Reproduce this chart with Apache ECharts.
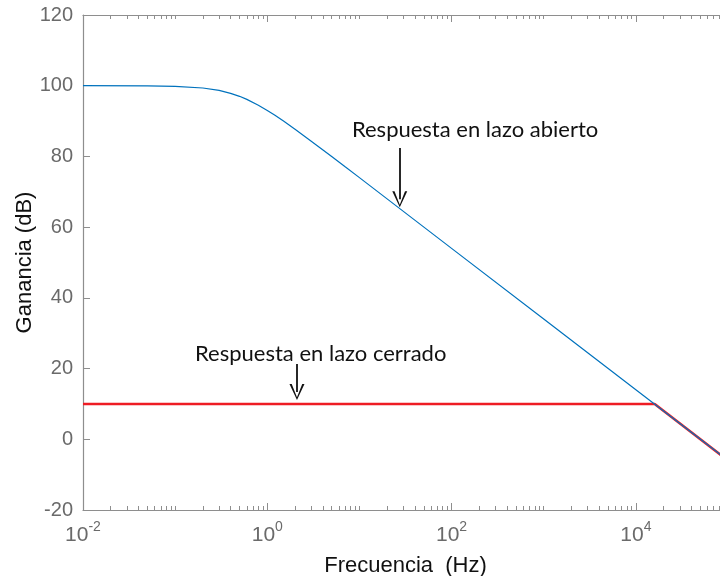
<!DOCTYPE html>
<html>
<head>
<meta charset="utf-8">
<script src="https://cdn.jsdelivr.net/npm/echarts@6/dist/echarts.min.js"></script>
<style>
  html, body { margin: 0; padding: 0; background: #fff; }
  #chart { width: 720px; height: 576px; }
</style>
</head>
<body>
<div id="chart"></div>
<script>
// frecuencias (Hz) y ganancia
const freqOpen = [0.01, 0.05, 0.1, 0.2, 0.3, 0.4, 0.5, 0.6, 0.8, 1, 1.2, 1.5, 2, 3, 5, 7, 10, 100, 1000, 10000, 100000];
const gainOpen = [100, 99.96, 99.8, 99.35, 98.66, 97.85, 97.0, 96.13, 94.49, 93.0, 91.7, 90.0, 87.7, 84.3, 80.0, 77.06, 74.0, 54.0, 34.0, 14.0, -6.0];

const freqClosed = [0.01, 16000, 100000];
const gainClosed = [10, 10, -6];

const majorTicks = [0.01, 1, 100, 10000];
const minorTicks = [
  0.02, 0.03, 0.04, 0.05, 0.06, 0.07, 0.08, 0.09,
  0.1, 0.2, 0.3, 0.4, 0.5, 0.6, 0.7, 0.8, 0.9,
  2, 3, 4, 5, 6, 7, 8, 9,
  10, 20, 30, 40, 50, 60, 70, 80, 90,
  200, 300, 400, 500, 600, 700, 800, 900,
  1000, 2000, 3000, 4000, 5000, 6000, 7000, 8000, 9000,
  20000, 30000, 40000, 50000, 60000, 70000, 80000, 90000
];

// anotaciones: [frecuencia, ganancia]
const labelOpen = [180, 87.5];
const arrowOpen = [[27.4, 82.4], [27.4, 67.9]];
const labelClosed = [3.8, 24.1];
const arrowClosed = [[2.1, 21.3], [2.1, 13.4]];

const axisGray = '#8e8e8e';
const textGray = '#6a6a6a';
const chevron = 'path://M0,10 L1.5,10 L5,1.6 L8.5,10 L10,10 L5,0 Z';

function xAxisBase(pos, ticks, len, main) {
  return {
    type: 'log',
    logBase: 10,
    position: pos,
    min: 0.01,
    max: 100000,
    splitLine: { show: false },
    axisLine: { show: main, onZero: false, lineStyle: { color: axisGray, width: 1.2 } },
    axisTick: { show: true, inside: true, length: len, customValues: ticks, lineStyle: { color: axisGray, width: 1 } },
    axisLabel: { show: false },
    minorTick: { show: false }
  };
}

const chart = echarts.init(document.getElementById('chart'));

const bottomMain = xAxisBase('bottom', majorTicks, 7, true);
bottomMain.axisLabel = {
  show: true,
  customValues: majorTicks,
  margin: 10,
  formatter: v => '{b|10}{s|' + Math.round(Math.log10(v)) + '}',
  rich: {
    b: { fontFamily: 'Liberation Sans', fontSize: 21, color: textGray, verticalAlign: 'bottom' },
    s: { fontFamily: 'Liberation Sans', fontSize: 14, color: textGray, verticalAlign: 'top', padding: [0, 0, 12, 0] }
  }
};
bottomMain.name = 'Frecuencia  (Hz)';
bottomMain.nameLocation = 'middle';
bottomMain.nameGap = 45;
bottomMain.nameMoveOverlap = false;
bottomMain.nameTextStyle = { fontFamily: 'Liberation Sans', fontSize: 22, color: '#111' };

const topMain = xAxisBase('top', majorTicks, 7, true);

chart.setOption({
  animation: false,
  backgroundColor: '#fff',
  grid: { left: 83, right: -8, top: 15, bottom: 66, containLabel: false, outerBoundsMode: 'none' },
  xAxis: [
    bottomMain,
    xAxisBase('bottom', minorTicks, 4, false),
    topMain,
    xAxisBase('top', minorTicks, 4, false)
  ],
  yAxis: {
    type: 'value',
    min: -20,
    max: 120,
    interval: 20,
    name: 'Ganancia (dB)',
    nameLocation: 'middle',
    nameGap: 47,
    nameMoveOverlap: false,
    nameTextStyle: { fontFamily: 'Liberation Sans', fontSize: 22, color: '#111' },
    splitLine: { show: false },
    axisLine: { show: true, lineStyle: { color: axisGray, width: 1.2 } },
    axisTick: { show: true, inside: true, length: 7, lineStyle: { color: axisGray } },
    axisLabel: { fontFamily: 'Liberation Sans', fontSize: 20, color: textGray, margin: 10 }
  },
  series: [
    {
      name: 'Lazo abierto',
      type: 'line',
      showSymbol: false,
      data: freqOpen.map((f, i) => [f, gainOpen[i]]),
      lineStyle: { color: '#0072BD', width: 1.2 },
      z: 3,
      markPoint: {
        symbol: 'circle',
        symbolSize: 0,
        label: { show: true, position: 'inside', fontFamily: 'Lato', fontSize: 22, color: '#111', formatter: 'Respuesta en lazo abierto' },
        data: [{ coord: labelOpen }]
      },
      markLine: {
        silent: true,
        symbol: ['none', chevron],
        symbolSize: [15, 16],
        lineStyle: { color: '#111', width: 1.8, type: 'solid' },
        label: { show: false },
        data: [[{ coord: arrowOpen[0] }, { coord: arrowOpen[1] }]]
      }
    },
    {
      name: 'Lazo cerrado',
      type: 'line',
      showSymbol: false,
      data: freqClosed.map((f, i) => [f, gainClosed[i]]),
      lineStyle: { color: '#ee1c24', width: 2.6 },
      z: 2,
      markPoint: {
        symbol: 'circle',
        symbolSize: 0,
        label: { show: true, position: 'inside', fontFamily: 'Lato', fontSize: 22, color: '#111', formatter: 'Respuesta en lazo cerrado' },
        data: [{ coord: labelClosed }]
      },
      markLine: {
        silent: true,
        symbol: ['none', chevron],
        symbolSize: [15, 16],
        lineStyle: { color: '#111', width: 1.8, type: 'solid' },
        label: { show: false },
        data: [[{ coord: arrowClosed[0] }, { coord: arrowClosed[1] }]]
      }
    }
  ]
});

window.addEventListener('resize', () => chart.resize());
</script>
</body>
</html>
